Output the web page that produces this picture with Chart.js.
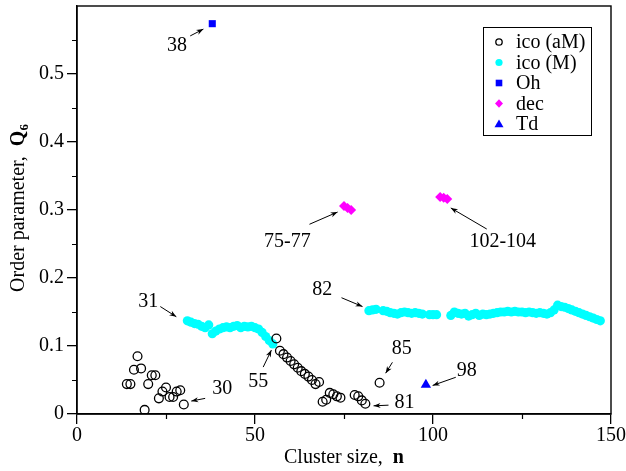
<!DOCTYPE html>
<html>
<head>
<meta charset="utf-8">
<script src="https://cdn.jsdelivr.net/npm/chart.js@4.4.1/dist/chart.umd.min.js"></script>
<style>
html,body{margin:0;padding:0;background:#fff;}
canvas{display:block;}
</style>
</head>
<body>
<canvas id="c" width="626" height="471"></canvas>
<script>
// ---- data ----
const aM_n = [14,15,16,17,18,19,20,21,22,23,24,25,26,27,28,29,30,
              56,57,58,59,60,61,62,63,64,65,66,67,68,69,70,71,72,73,74,78,79,80,81,85];
const aM_q = [0.044,0.044,0.065,0.085,0.067,0.006,0.044,0.057,0.057,0.023,0.033,0.039,0.025,0.025,0.033,0.035,0.014,
              0.111,0.093,0.088,0.083,0.078,0.073,0.068,0.063,0.059,0.055,0.050,0.044,0.047,0.018,0.021,0.031,0.029,0.026,0.024,0.028,0.026,0.020,0.015,0.046];

const M_n = [31,32,33,34,35,36,37,38,39,40,41,42,43,44,45,46,47,48,49,50,51,52,53,54,55,
             82,83,84,86,87,88,89,90,91,92,93,94,95,96,97,99,100,101,
             105,106,107,108,109,110,111,112,113,114,115,116,117,118,119,120,121,122,123,124,125,126,127,128,129,130,
             131,132,133,134,135,136,137,138,139,140,141,142,143,144,145,146,147];
const M_q = [0.137,0.135,0.133,0.132,0.129,0.127,0.131,0.118,0.122,0.125,0.127,0.128,0.127,0.129,0.130,0.127,0.129,0.128,0.129,0.127,0.125,0.120,0.114,0.108,0.103,
             0.152,0.153,0.154,0.152,0.151,0.149,0.148,0.147,0.149,0.150,0.149,0.148,0.149,0.148,0.147,0.146,0.146,0.146,
             0.145,0.150,0.148,0.147,0.148,0.144,0.146,0.148,0.145,0.147,0.146,0.147,0.148,0.149,0.150,0.150,0.151,0.150,0.151,0.150,0.150,0.149,0.150,0.149,0.148,0.149,
             0.148,0.147,0.149,0.153,0.160,0.158,0.157,0.155,0.153,0.151,0.149,0.147,0.145,0.143,0.141,0.139,0.137];

const Oh_n = [38];   const Oh_q = [0.574];
const dec_n = [75,76,77,102,103,104];
const dec_q = [0.306,0.303,0.300,0.319,0.318,0.316];
const Td_n = [98];   const Td_q = [0.043];

const xTicks = [0,50,100,150];
const yTicks = [0,0.1,0.2,0.3,0.4,0.5];
const legendLabels = ['ico (aM)','ico (M)','Oh','dec','Td'];

// annotations: text position and arrow (data coordinates)
const notes = [
  {t:'38',      x:28.1, y:0.542, a:[31.8,0.556,35.5,0.566]},
  {t:'31',      x:20.0, y:0.165, a:[23.4,0.158,27.9,0.143]},
  {t:'55',      x:50.9, y:0.048, a:[52.3,0.069,54.6,0.094]},
  {t:'30',      x:40.8, y:0.037, a:[36.0,0.023,32.1,0.019]},
  {t:'75-77',   x:59.1, y:0.254, a:[65.3,0.279,73.2,0.297]},
  {t:'102-104', x:119.6,y:0.254, a:[115.1,0.272,105.0,0.303]},
  {t:'82',      x:68.9, y:0.183, a:[74.3,0.171,80.2,0.158]},
  {t:'85',      x:91.2, y:0.096, a:[88.6,0.076,86.7,0.060]},
  {t:'81',      x:92.0, y:0.016, a:[87.5,0.013,83.3,0.012]},
  {t:'98',      x:109.5,y:0.064, a:[106.4,0.054,99.9,0.042]}
];

const pts = (ns, qs) => ns.map((n,i)=>({x:n, y:qs[i]}));
const FONT = '"Liberation Serif", "DejaVu Serif", serif';

const frameAndExtras = {
  id:'extras',
  afterDraw(chart){
    const ctx = chart.ctx, a = chart.chartArea;
    const xs = chart.scales.x, ys = chart.scales.y;
    ctx.save();
    // frame
    ctx.strokeStyle = '#000'; ctx.lineWidth = 1.4;
    ctx.strokeRect(a.left, a.top, a.right - a.left, a.bottom - a.top);
    // minor ticks
    ctx.lineWidth = 1.2;
    ctx.beginPath();
    for (let v = 25; v < 150; v += 50){
      const px = Math.round(xs.getPixelForValue(v)) + 0.5;
      ctx.moveTo(px, a.bottom); ctx.lineTo(px, a.bottom + 5);
    }
    for (let v = 0.05; v < 0.6; v += 0.1){
      const py = Math.round(ys.getPixelForValue(v)) + 0.5;
      ctx.moveTo(a.left, py); ctx.lineTo(a.left - 5, py);
    }
    ctx.stroke();

    // annotations
    ctx.fillStyle = '#000';
    ctx.font = '20px ' + FONT;
    ctx.textAlign = 'center'; ctx.textBaseline = 'middle';
    notes.forEach(nt=>{
      ctx.fillText(nt.t, xs.getPixelForValue(nt.x), ys.getPixelForValue(nt.y));
      const x1 = xs.getPixelForValue(nt.a[0]), y1 = ys.getPixelForValue(nt.a[1]);
      const x2 = xs.getPixelForValue(nt.a[2]), y2 = ys.getPixelForValue(nt.a[3]);
      ctx.lineWidth = 1;
      ctx.beginPath(); ctx.moveTo(x1,y1); ctx.lineTo(x2,y2); ctx.stroke();
      const ang = Math.atan2(y2-y1, x2-x1), L = 7, W = 2.6;
      ctx.beginPath();
      ctx.moveTo(x2,y2);
      ctx.lineTo(x2 - L*Math.cos(ang) + W*Math.sin(ang), y2 - L*Math.sin(ang) - W*Math.cos(ang));
      ctx.lineTo(x2 - L*0.7*Math.cos(ang), y2 - L*0.7*Math.sin(ang));
      ctx.lineTo(x2 - L*Math.cos(ang) - W*Math.sin(ang), y2 - L*Math.sin(ang) + W*Math.cos(ang));
      ctx.closePath(); ctx.fill();
    });

    // axis titles
    ctx.textAlign = 'left'; ctx.textBaseline = 'alphabetic';
    const p1 = 'Cluster size,  ', p2 = 'n';
    ctx.font = '20px ' + FONT; const w1 = ctx.measureText(p1).width;
    ctx.font = 'bold 20px ' + FONT; const w2 = ctx.measureText(p2).width;
    let sx = (a.left + a.right)/2 - (w1+w2)/2;
    ctx.font = '20px ' + FONT; ctx.fillText(p1, sx, 463);
    ctx.font = 'bold 20px ' + FONT; ctx.fillText(p2, sx + w1, 463);

    ctx.save();
    ctx.translate(24, 208);
    ctx.rotate(-Math.PI/2);
    const q1 = 'Order parameter,  ', q2 = 'Q', q3 = '6';
    ctx.font = '20px ' + FONT; const v1 = ctx.measureText(q1).width;
    ctx.font = 'bold 20px ' + FONT; const v2 = ctx.measureText(q2).width;
    ctx.font = 'bold 13px ' + FONT; const v3 = ctx.measureText(q3).width;
    let s = -(v1+v2+v3)/2;
    ctx.font = '20px ' + FONT; ctx.fillText(q1, s, 0);
    ctx.font = 'bold 20px ' + FONT; ctx.fillText(q2, s+v1, 0);
    ctx.font = 'bold 13px ' + FONT; ctx.fillText(q3, s+v1+v2, 4);
    ctx.restore();

    // legend
    const bx = a.right - 128, by = a.top + 21, bw = 108, bh = 108;
    ctx.fillStyle = '#fff'; ctx.fillRect(bx, by, bw, bh);
    ctx.strokeStyle = '#000'; ctx.lineWidth = 1;
    ctx.strokeRect(bx+0.5, by+0.5, bw, bh);
    ctx.font = '20px ' + FONT; ctx.textBaseline = 'middle'; ctx.textAlign = 'left';
    legendLabels.forEach((lab, i)=>{
      const cy = by + 15 + i*20.5, mx = bx + 16;
      const ds = chart.data.datasets[i];
      ctx.fillStyle = ds.backgroundColor; ctx.strokeStyle = ds.borderColor;
      ctx.lineWidth = 1.3;
      ctx.beginPath();
      if (i === 0){ ctx.arc(mx, cy, 3.2, 0, Math.PI*2); ctx.stroke(); }
      else if (i === 1){ ctx.arc(mx, cy, 3.6, 0, Math.PI*2); ctx.fill(); }
      else if (i === 2){ ctx.fillRect(mx-3.3, cy-3.3, 6.6, 6.6); }
      else if (i === 3){ ctx.moveTo(mx, cy-4.2); ctx.lineTo(mx+4, cy); ctx.lineTo(mx, cy+4.2); ctx.lineTo(mx-4, cy); ctx.closePath(); ctx.fill(); }
      else { ctx.moveTo(mx, cy-4.5); ctx.lineTo(mx+4.5, cy+3.3); ctx.lineTo(mx-4.5, cy+3.3); ctx.closePath(); ctx.fill(); }
      ctx.fillStyle = '#000';
      ctx.fillText(lab, bx + 33, cy + 1);
    });
    ctx.restore();
  }
};

new Chart(document.getElementById('c'), {
  type: 'scatter',
  data: {
    datasets: [
      {label:'ico (aM)', data: pts(aM_n, aM_q), pointStyle:'circle', radius:4.4, backgroundColor:'rgba(0,0,0,0)', borderColor:'#000', borderWidth:1.3},
      {label:'ico (M)', data: pts(M_n, M_q), pointStyle:'circle', radius:4.6, backgroundColor:'#00FFFF', borderColor:'#00FFFF', borderWidth:0},
      {label:'Oh', data: pts(Oh_n, Oh_q), pointStyle:'rect', radius:5, backgroundColor:'#0000FF', borderColor:'#0000FF', borderWidth:0},
      {label:'dec', data: pts(dec_n, dec_q), pointStyle:'rectRot', radius:5, backgroundColor:'#FF00FF', borderColor:'#FF00FF', borderWidth:0},
      {label:'Td', data: pts(Td_n, Td_q), pointStyle:'triangle', radius:6, backgroundColor:'#0000FF', borderColor:'#0000FF', borderWidth:0}
    ]
  },
  options: {
    responsive:false, animation:false,
    layout:{padding:{top:4, right:15, left:0, bottom:0}},
    plugins:{legend:{display:false}, tooltip:{enabled:false}},
    scales:{
      x:{type:'linear', min:0, max:150,
         afterBuildTicks(s){ s.ticks = xTicks.map(v=>({value:v})); },
         ticks:{color:'#000', font:{family:FONT, size:20}, padding:0, maxRotation:0, autoSkip:false,
                callback:v=>String(v)},
         grid:{drawOnChartArea:false, drawTicks:true, tickLength:10, color:'#000', lineWidth:1.3},
         border:{display:true, color:'#000', width:1.4},
         afterFit(s){ s.height = 57; s.paddingLeft = 0; s.paddingRight = 0; }},
      y:{type:'linear', min:0, max:0.6,
         afterBuildTicks(s){ s.ticks = yTicks.map(v=>({value:v})); },
         ticks:{color:'#000', font:{family:FONT, size:20}, padding:3, autoSkip:false,
                callback:v=> v===0 ? '0' : (Math.round(v*10)/10).toString()},
         grid:{drawOnChartArea:false, drawTicks:true, tickLength:10, color:'#000', lineWidth:1.3},
         border:{display:true, color:'#000', width:1.4},
         afterFit(s){ s.width = 77; s.paddingTop = 0; s.paddingBottom = 0; }}
    }
  },
  plugins:[frameAndExtras]
});
</script>
</body>
</html>
